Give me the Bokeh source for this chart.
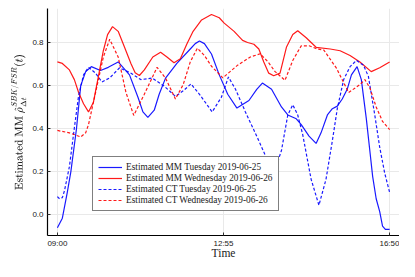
from bokeh.plotting import figure
from bokeh.models import FixedTicker, Range1d, Legend, LegendItem, TeX
from bokeh.embed import file_html
from bokeh.resources import INLINE

# ---- data (time in minutes after midnight) ----
x_ticks = [540, 775, 1010]
x_tick_labels = ["09:00", "12:55", "16:50"]
y_ticks = [0.0, 0.2, 0.4, 0.6, 0.8]

mm_tue_t = [540, 547, 554, 559, 567, 573, 580, 588, 601, 612, 626, 642, 654, 661, 668, 677,
            684, 693, 709, 728, 735, 741, 748, 758, 769, 781, 794, 811, 822, 830, 843, 857,
            866, 878, 885, 896, 906, 913, 922, 929, 936, 943, 950, 956, 964, 970, 977, 982,
            986, 991, 996, 1000, 1004, 1010]
mm_tue_v = [-0.060, -0.015, 0.105, 0.200, 0.400, 0.600, 0.665, 0.688, 0.670, 0.685, 0.710,
            0.650, 0.546, 0.478, 0.453, 0.486, 0.560, 0.635, 0.703, 0.770, 0.795, 0.807,
            0.795, 0.747, 0.650, 0.560, 0.496, 0.531, 0.583, 0.612, 0.583, 0.501, 0.464,
            0.446, 0.419, 0.366, 0.332, 0.381, 0.464, 0.493, 0.505, 0.538, 0.583, 0.650,
            0.688, 0.628, 0.448, 0.299, 0.179, 0.075, 0.015, -0.052, -0.067, -0.067]

mm_wed_t = [540, 547, 557, 564, 570, 577, 584, 591, 598, 605, 611, 618, 626, 635, 644, 650,
            656, 663, 675, 686, 695, 705, 714, 723, 732, 744, 758, 769, 776, 790, 802, 809,
            818, 825, 832, 839, 846, 855, 864, 873, 880, 892, 906, 926, 940, 954, 968, 984,
            996, 1010]
mm_wed_v = [0.710, 0.703, 0.673, 0.628, 0.568, 0.516, 0.478, 0.523, 0.643, 0.762, 0.837,
            0.874, 0.852, 0.778, 0.703, 0.660, 0.647, 0.673, 0.733, 0.755, 0.733, 0.706,
            0.725, 0.792, 0.852, 0.905, 0.930, 0.915, 0.890, 0.852, 0.810, 0.800, 0.792,
            0.770, 0.710, 0.658, 0.646, 0.658, 0.778, 0.837, 0.855, 0.822, 0.778, 0.770,
            0.762, 0.740, 0.710, 0.665, 0.683, 0.710]

ct_tue_t = [540, 543, 547, 550, 557, 564, 570, 577, 584, 594, 603, 614, 628, 644, 658, 674,
            691, 707, 718, 729, 741, 759, 772, 782, 792, 806, 825, 839, 848, 857, 866, 873,
            880, 887, 899, 910, 920, 929, 936, 945, 954, 963, 973, 980, 989, 996, 1003, 1010]
ct_tue_v = [0.085, 0.075, 0.080, 0.112, 0.224, 0.404, 0.553, 0.650, 0.685, 0.658, 0.617,
            0.636, 0.683, 0.658, 0.628, 0.635, 0.598, 0.550, 0.576, 0.608, 0.560, 0.478,
            0.546, 0.640, 0.583, 0.478, 0.344, 0.240, 0.210, 0.299, 0.464, 0.511, 0.464,
            0.374, 0.165, 0.045, 0.165, 0.344, 0.493, 0.628, 0.688, 0.717, 0.695, 0.643,
            0.464, 0.314, 0.195, 0.105]

ct_wed_t = [540, 557, 573, 580, 584, 594, 605, 614, 626, 637, 648, 663, 681, 693, 707, 718,
            728, 738, 748, 758, 774, 795, 813, 827, 838, 848, 862, 873, 885, 896, 908, 917,
            935, 952, 968, 975, 982, 991, 1000, 1010]
ct_wed_v = [0.392, 0.381, 0.362, 0.381, 0.419, 0.568, 0.733, 0.815, 0.733, 0.568, 0.462,
            0.560, 0.685, 0.635, 0.538, 0.605, 0.710, 0.774, 0.740, 0.690, 0.636, 0.695,
            0.733, 0.748, 0.710, 0.665, 0.625, 0.717, 0.785, 0.785, 0.770, 0.765, 0.680,
            0.568, 0.605, 0.628, 0.590, 0.501, 0.434, 0.396]

labels = ["Estimated MM Tuesday 2019-06-25", "Estimated MM Wednesday 2019-06-26",
          "Estimated CT Tuesday 2019-06-25", "Estimated CT Wednesday 2019-06-26"]

# ---- figure ----
p = figure(width=399, height=261, output_backend="svg", toolbar_location=None,
           x_range=Range1d(526, 1024), y_range=Range1d(-0.0955, 0.958),
           min_border_left=47, min_border_right=0, min_border_top=8, min_border_bottom=22)
p.outline_line_color = None
p.background_fill_color = "white"
p.border_fill_color = "white"

series = [
    (mm_tue_t, mm_tue_v, "#0000ff", "solid"),
    (mm_wed_t, mm_wed_v, "#ff0000", "solid"),
    (ct_tue_t, ct_tue_v, "#0000ff", "3 2"),
    (ct_wed_t, ct_wed_v, "#ff0000", "3 2"),
]
renderers = []
for t, v, c, d in series:
    r = p.line(t, v, line_color=c, line_width=1.2, line_dash=d, line_alpha=0.9)
    renderers.append(r)

legend = Legend(items=[LegendItem(label=l, renderers=[r]) for l, r in zip(labels, renderers)],
                location=(45, 24), border_line_color="black", border_line_width=1,
                padding=5, spacing=1, margin=0, glyph_width=24, glyph_height=10,
                label_height=10, label_standoff=4, label_text_font="Liberation Serif",
                label_text_font_size="9.3px", label_text_color="#222222",
                background_fill_alpha=1.0)
p.add_layout(legend)

p.xaxis.ticker = FixedTicker(ticks=x_ticks)
p.xaxis.major_label_overrides = dict(zip(x_ticks, x_tick_labels))
p.yaxis.ticker = FixedTicker(ticks=y_ticks)
p.yaxis.major_label_overrides = {t: f"{t:.1f}" for t in y_ticks}

for ax in (p.xaxis[0], p.yaxis[0]):
    ax.axis_line_color = "black"
    ax.axis_line_width = 1.2
    ax.major_tick_in = 3
    ax.major_tick_out = 0
    ax.major_tick_line_color = "#333333"
    ax.minor_tick_line_color = None
    ax.major_label_text_font = "Liberation Sans"
    ax.major_label_text_font_size = "8px"
    ax.major_label_text_color = "#222222"
    ax.axis_label_text_font = "Liberation Serif"
    ax.axis_label_text_font_style = "normal"
    ax.axis_label_text_font_size = "11.5px"
    ax.axis_label_text_color = "#222222"

p.xaxis.major_label_standoff = 3
p.xaxis.axis_label_standoff = -4
p.yaxis.major_label_standoff = 4
p.yaxis.axis_label_standoff = 3

p.xaxis.axis_label = "Time"
p.yaxis.axis_label = TeX(text=r"\text{Estimated MM }\hat{\rho}^{SBK/FSR}_{\Delta t}(t)")
p.yaxis.axis_label_text_font_size = "10.8px"

p.xgrid.ticker = FixedTicker(ticks=x_ticks)
p.ygrid.ticker = FixedTicker(ticks=y_ticks)
p.grid.grid_line_color = "#e9e9e9"
p.grid.grid_line_width = 1

open("out.html", "w").write(file_html(p, INLINE))
